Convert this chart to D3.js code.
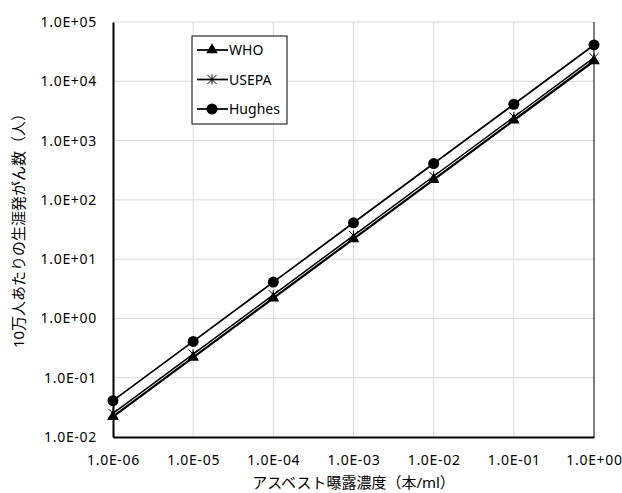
<!DOCTYPE html>
<html><head><meta charset="utf-8">
<script src="https://cdn.jsdelivr.net/npm/d3@7"></script>
<style>body{margin:0;background:#fff}text{font-family:"Noto Sans","Noto Sans CJK JP",sans-serif}</style>
</head><body>
<svg id="c" width="622" height="493"></svg>
<script>
const concentrations = [1e-6, 1e-5, 1e-4, 1e-3, 1e-2, 1e-1, 1e0];
const whoValues = [0.022, 0.22, 2.2, 22, 220, 2200, 22000];
const usepaValues = [0.025, 0.25, 2.5, 25, 250, 2500, 25000];
const hughesValues = [0.041, 0.41, 4.1, 41, 410, 4100, 41000];
const xTickLabels = ["1.0E-06","1.0E-05","1.0E-04","1.0E-03","1.0E-02","1.0E-01","1.0E+00"];
const yTicks = [1e-2,1e-1,1e0,1e1,1e2,1e3,1e4,1e5];
const yTickLabels = ["1.0E-02","1.0E-01","1.0E+00","1.0E+01","1.0E+02","1.0E+03","1.0E+04","1.0E+05"];
const seriesNames = ["WHO","USEPA","Hughes"];

const svg = d3.select("#c");
const L=113, R=594, T=22, B=437;
const x = d3.scaleLog().domain([1e-6,1]).range([L,R]);
const y = d3.scaleLog().domain([1e-2,1e5]).range([B,T]);

// gridlines
svg.append("g").selectAll("line").data(concentrations.slice(1,-1)).join("line")
  .attr("x1",d=>x(d)).attr("x2",d=>x(d)).attr("y1",T).attr("y2",B)
  .attr("stroke","#d9d9d9").attr("stroke-width",1);
svg.append("g").selectAll("line").data(yTicks.slice(1)).join("line")
  .attr("x1",L).attr("x2",R).attr("y1",d=>y(d)).attr("y2",d=>y(d))
  .attr("stroke","#d9d9d9").attr("stroke-width",1);
// right border
svg.append("line").attr("x1",R).attr("x2",R).attr("y1",T).attr("y2",B).attr("stroke","#000").attr("stroke-width",1);

// axes
const xAxis = d3.axisBottom(x).tickValues(concentrations).tickFormat((d,i)=>xTickLabels[i]).tickSize(0).tickPadding(18);
const gx = svg.append("g").attr("transform",`translate(0,${B})`).call(xAxis);
gx.attr("font-size",14).attr("font-family","Noto Sans").attr("letter-spacing",0.7);
gx.select(".domain").attr("stroke","#000").attr("stroke-width",2);
const yAxis = d3.axisLeft(y).tickValues(yTicks).tickFormat((d,i)=>yTickLabels[i]).tickSize(0).tickPadding(16);
const gy = svg.append("g").attr("transform",`translate(${L},0)`).call(yAxis);
gy.attr("font-size",14).attr("font-family","Noto Sans").attr("letter-spacing",0.7);
gy.select(".domain").attr("stroke","#000").attr("stroke-width",2);

// titles
svg.append("text").attr("x",(L+R)/2).attr("y",488).attr("text-anchor","middle")
  .attr("font-size",15).text("アスベスト曝露濃度（本/ml）");
svg.append("text").attr("transform",`translate(24,227) rotate(-90)`).attr("text-anchor","middle")
  .attr("font-size",15).text("10万人あたりの生涯発がん数（人）");

const line = d3.line().x(d=>x(d[0])).y(d=>y(d[1]));
const series = [
  {name:"WHO", vals:whoValues, w:2.25, marker:"tri"},
  {name:"USEPA", vals:usepaValues, w:1.5, marker:"star"},
  {name:"Hughes", vals:hughesValues, w:1.75, marker:"circle"}
];
const triSym = d3.symbol().type(d3.symbolTriangle).size(58);
const starSym = d3.symbol().type(d3.symbolX).size(55);
function drawMarker(g, type, cx, cy){
  if(type==="tri") g.append("path").attr("d",triSym()).attr("transform",`translate(${cx},${cy})`).attr("fill","#000");
  else if(type==="circle") g.append("circle").attr("cx",cx).attr("cy",cy).attr("r",5.5).attr("fill","#000");
  else {
    g.append("path").attr("d",starSym()).attr("transform",`translate(${cx},${cy})`).attr("fill","none").attr("stroke","#000").attr("stroke-width",1);
    g.append("line").attr("x1",cx).attr("x2",cx).attr("y1",cy-5).attr("y2",cy+5).attr("stroke","#000").attr("stroke-width",1);
  }
}
series.forEach(s=>{
  const pts = concentrations.map((c,i)=>[c,s.vals[i]]);
  svg.append("path").attr("d",line(pts)).attr("fill","none").attr("stroke","#000").attr("stroke-width",s.w);
});
series.slice().reverse().forEach(s=>{
  const g = svg.append("g");
  concentrations.forEach((c,i)=>drawMarker(g,s.marker,x(c),y(s.vals[i])));
});

// legend
const lg = svg.append("g");
lg.append("rect").attr("x",192).attr("y",36).attr("width",95).attr("height",88).attr("fill","#fff").attr("stroke","#000").attr("stroke-width",1);
series.forEach((s,i)=>{
  const yy = 50 + i*29.5;
  lg.append("line").attr("x1",197).attr("x2",228).attr("y1",yy).attr("y2",yy).attr("stroke","#000").attr("stroke-width",1.75);
  drawMarker(lg,s.marker,212,yy);
  lg.append("text").attr("x",229).attr("y",yy+5).attr("font-size",14).text(s.name);
});
</script>
</body></html>
